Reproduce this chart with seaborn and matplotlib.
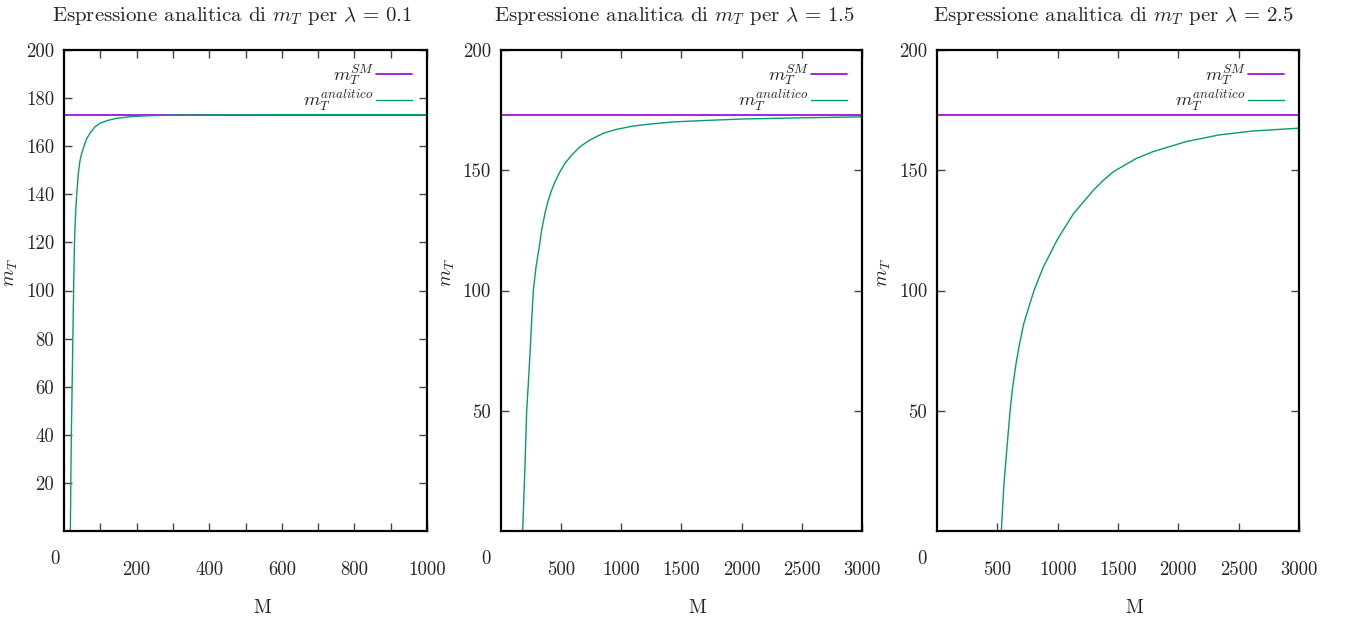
import matplotlib
matplotlib.use("Agg")
import matplotlib.pyplot as plt
import seaborn as sns
import pandas as pd

# ---- data ----
lambdas = ["0.1", "1.5", "2.5"]
m_sm = 173.1

M_l01 = [17.5, 20, 23, 25.7, 28.5, 30.5, 33, 36, 39.5, 44, 48.7, 53, 62, 72, 85, 99, 120, 145, 185, 237, 300, 400, 600, 800, 1000]
mT_l01 = [0, 38, 66, 93, 118, 127, 135, 142, 148.7, 154, 157, 159, 163, 165.5, 168, 169.5, 170.7, 171.6, 172.3, 172.7, 172.9, 173.0, 173.1, 173.1, 173.1]

M_l15 = [184, 203, 217, 231, 245, 259, 272, 295, 322, 342, 369, 397, 425, 452, 494, 535, 591, 660, 743, 853, 964, 1102, 1241, 1434, 1656, 2000, 2500, 3000]
mT_l15 = [0, 26.7, 49.6, 61.4, 73.9, 87.7, 99.8, 109.9, 118.2, 125.2, 132.1, 137.6, 141.8, 145.2, 149.4, 152.9, 156.3, 159.8, 162.6, 165.4, 167.0, 168.4, 169.2, 170.1, 170.6, 171.3, 171.8, 172.2]

M_l25 = [533, 555, 583, 605, 624, 651, 679, 720, 762, 803, 844, 882, 940, 995, 1063, 1133, 1215, 1298, 1380, 1462, 1558, 1655, 1789, 2064, 2339, 2613, 3000]
mT_l25 = [0, 19.8, 36.5, 49.6, 58.6, 68.3, 76.6, 86.4, 93.3, 99.8, 105.1, 109.9, 115.5, 121, 126.5, 132.1, 136.9, 141.8, 145.9, 149.4, 152.2, 155, 157.7, 161.9, 164.7, 166.3, 167.5]

xmax = [1000, 3000, 3000]
x_ticks = [list(range(100, 1001, 100)), [500, 1000, 1500, 2000, 2500, 3000], [500, 1000, 1500, 2000, 2500, 3000]]
x_ticklabels = [["", "200", "", "400", "", "600", "", "800", "", "1000"],
                ["500", "1000", "1500", "2000", "2500", "3000"],
                ["500", "1000", "1500", "2000", "2500", "3000"]]
y_ticks = [list(range(20, 201, 20)), [50, 100, 150, 200], [50, 100, 150, 200]]

series = [(M_l01, mT_l01), (M_l15, mT_l15), (M_l25, mT_l25)]

# ---- style ----
sns.set_theme(style="ticks")
plt.rcParams["font.family"] = ["cmr10", "DejaVu Serif"]
plt.rcParams["mathtext.fontset"] = "cm"
plt.rcParams["axes.formatter.use_mathtext"] = True
plt.rcParams["axes.unicode_minus"] = False

purple = "#9400D3"
green = "#009E73"

fig = plt.figure(figsize=(13.5, 6.21), dpi=100)
W, H = 1350, 621
lefts = [64, 500.5, 937]
widths = [363, 361.5, 362]
title_x = [0.464, 0.481, 0.489]

for i in range(3):
    l = lefts[i]
    ax = fig.add_axes([l / W, 1 - 531 / H, widths[i] / W, 481 / H])
    M, mT = series[i]
    df = pd.DataFrame({"M": M, "mT": mT})
    ax.axhline(m_sm, color=purple, lw=1.2, label=r"$m_T^{SM}$")
    sns.lineplot(data=df, x="M", y="mT", ax=ax, color=green, lw=1.0,
                 label=r"$m_T^{analitico}$", sort=False)
    ax.set_xlim(0, xmax[i])
    ax.set_ylim(0, 200)
    ax.set_xticks(x_ticks[i])
    ax.set_xticklabels(x_ticklabels[i])
    ax.set_yticks(y_ticks[i])
    ax.set_yticklabels([str(v) for v in y_ticks[i]])
    ax.tick_params(direction="in", top=True, right=True, length=6, width=1,
                   color="#444444", labelsize=13.5)
    ax.tick_params(axis="x", pad=22)
    ax.tick_params(axis="y", pad=7)
    for s in ax.spines.values():
        s.set_linewidth(1.6)
        s.set_color("black")
    ax.set_xlabel("")
    ax.set_ylabel("")
    ax.text(title_x[i], 1.071, r"Espressione analitica di $m_T$ per $\lambda$ = " + lambdas[i],
            transform=ax.transAxes, ha="center", va="center", fontsize=15)
    ax.text(-0.145, 0.538, r"$m_T$", transform=ax.transAxes, rotation=90,
            ha="center", va="center", fontsize=14)
    ax.text(0.545, -0.160, "M", transform=ax.transAxes, ha="center", va="center", fontsize=14)
    ax.text(-9 / widths[i] if i == 0 else -15 / widths[i], -0.058, "0", transform=ax.transAxes,
            ha="center", va="center", fontsize=13.5)
    leg = ax.legend(loc="upper right", bbox_to_anchor=(0.986, 0.995), frameon=False,
                    markerfirst=False, handlelength=1.9, handletextpad=0.1,
                    borderaxespad=0.15, fontsize=13.5, labelspacing=0.0)

fig.savefig("out.png", dpi=100)
